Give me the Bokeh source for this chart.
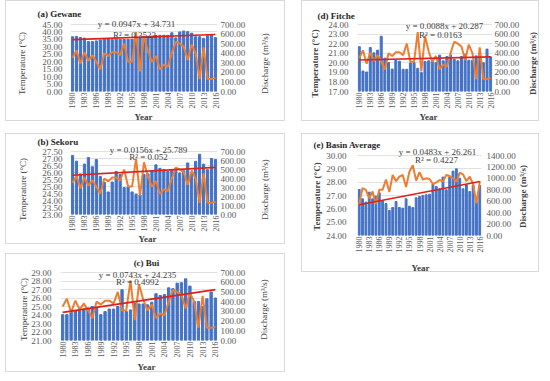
import math
from bokeh.plotting import figure
from bokeh.models import (Range1d, LinearAxis, FixedTicker, NumeralTickFormatter, Label, Spacer)
from bokeh.layouts import row, column
from bokeh.embed import file_html
from bokeh.resources import INLINE

FONT = "Liberation Serif"

years = [1980, 1981, 1982, 1983, 1984, 1985, 1986, 1987, 1988, 1989,
         1990, 1991, 1992, 1993, 1994, 1995, 1996, 1997, 1998, 1999,
         2000, 2001, 2002, 2003, 2004, 2005, 2006, 2007, 2008, 2009,
         2010, 2011, 2012, 2013, 2014, 2015, 2016]
year_ticks = [1980, 1983, 1986, 1989, 1992, 1995, 1998, 2001, 2004, 2007, 2010, 2013, 2016]

discharge = [350, 430, 290, 410, 320, 380, 310, 230, 400, 370, 410, 410, 380, 500, 310, 310,
             620, 210, 580, 420, 310, 370, 230, 280, 260, 400, 520, 500, 470, 330, 490, 400,
             130, 460, 130, 130, 140]
discharge_basin = [540, 830, 800, 650, 770, 550, 800, 800, 980, 760, 1060, 950, 1030, 1060, 850,
                   1120, 1230, 960, 1110, 980, 1000, 990, 900, 930, 970, 950, 1060, 1040, 1000,
                   940, 1100, 1070, 950, 1030, 900, 560, 950]

temp_gewane = [36.8, 37.0, 36.3, 35.9, 33.5, 33.5, 34.0, 34.6, 35.0, 35.2, 34.8, 35.1, 34.9,
               34.9, 35.0, 35.0, 35.8, 36.5, 36.8, 37.0, 37.2, 37.6, 37.7, 37.8, 37.7, 39.4,
               36.0, 40.0, 40.6, 40.2, 39.2, 36.8, 36.8, 35.7, 37.5, 38.0, 36.2]
temp_sekoru = [27.22, 26.81, 25.9, 26.6, 27.07, 26.41, 26.93, 25.72, 25.3, 24.61, 25.32, 26.08,
               25.86, 24.92, 24.97, 24.61, 24.45, 24.4, 25.87, 25.9, 26.1, 26.55, 26.3, 26.2,
               26.08, 26.15, 26.3, 25.96, 26.13, 26.68, 25.9, 26.8, 27.3, 26.6, 26.2, 27.0, 26.93]
temp_bui = [24.04, 24.04, 24.4, 24.5, 24.5, 24.7, 24.8, 25.0, 24.9, 24.04, 24.4, 24.7, 24.7,
            25.0, 26.97, 24.4, 24.6, 25.4, 25.3, 25.3, 25.2, 25.5, 26.5, 26.3, 26.4, 27.2,
            27.1, 27.75, 27.8, 28.26, 27.4, 25.6, 25.6, 25.0, 25.9, 26.7, 26.0]
temp_fitche = [21.68, 19.14, 19.04, 21.6, 21.04, 21.32, 22.77, 20.48, 20.02, 19.35, 20.27, 20.16,
               19.32, 19.32, 19.99, 20.02, 19.42, 18.97, 20.13, 20.2, 20.13, 20.02, 20.8, 20.2,
               20.65, 20.83, 20.37, 20.2, 20.65, 20.9, 20.27, 20.27, 20.72, 20.72, 20.0, 21.43, 20.62]
temp_basin = [27.45, 26.75, 26.5, 27.25, 26.75, 26.95, 27.2, 26.6, 26.4, 25.88, 26.1, 26.55, 26.1,
              26.05, 26.75, 26.2, 26.1, 26.83, 26.93, 27.0, 27.05, 27.1, 27.85, 27.68, 27.5, 28.38,
              27.43, 28.38, 28.83, 29.0, 28.3, 27.5, 27.8, 27.3, 27.75, 26.5, 27.75]

titles = ["(a) Gewane", "(b) Sekoru", "(c) Bui", "(d) Fitche", "(e) Basin Average"]
slopes = [0.0947, 0.0156, 0.0743, 0.0088, 0.0483]
intercepts = [34.731, 25.789, 24.235, 20.287, 26.261]
r2_texts = ["R² = 0.3523", "R² = 0.052", "R² = 0.4992", "R² = 0.0163", "R² = 0.4227"]
eq_texts = ["y = 0.0947x + 34.731", "y = 0.0156x + 25.789", "y = 0.0743x + 24.235",
            "y = 0.0088x + 20.287", "y = 0.0483x + 26.261"]
temp_axis = [(0, 45, 5), (23, 27.5, 0.5), (21, 29, 1), (17, 24, 1), (24, 30, 1)]
q_axis = [(700, 100), (700, 100), (700, 100), (700, 100), (1400, 200)]
y_label = "Temperature (°C)"
q_label = "Discharge (m³/s)"
x_label = "Year"

FT = 11  # frame top in canvas px


def ticks(lo, hi, step):
    n = int(round((hi - lo) / step))
    return [lo + i * step for i in range(n + 1)]


def txt(x, y, text, size="9px", style="normal", color="#404040", align="center", angle=0.0):
    return Label(x=x, y=y, x_units="canvas", y_units="canvas", text=text, angle=angle,
                 text_font=FONT, text_font_size=size, text_font_style=style,
                 text_color=color, text_align=align, text_baseline="middle")


def make_panel(k, temp, q, g):
    ylo, yhi, ystep = temp_axis[k]
    qhi, qstep = q_axis[k]
    w, h = g["w"], g["h"]
    ml, mr, mb = g["ml"], g["mr"], g["mb"]
    ttop, tbot = g["ttop"], h - mb
    ext = (ttop - FT) / (tbot - ttop)
    yend = yhi + ext * (yhi - ylo)
    qend = qhi * (1 + ext)
    p = figure(width=w, height=h, output_backend="svg", toolbar_location=None,
               x_range=Range1d(1979.5, 2016.5), y_range=Range1d(ylo, yend),
               min_border_left=ml, min_border_right=mr, min_border_top=FT,
               min_border_bottom=mb)
    p.extra_y_ranges = {"q": Range1d(0, qend)}
    p.styles = {"border": "1px solid #D9D9D9"}
    p.outline_line_color = None
    p.background_fill_color = "white"
    p.border_fill_color = "white"

    p.vbar(x=years, top=temp, bottom=ylo, width=0.55, color="#4472C4")
    p.line(x=years, y=q, y_range_name="q", color="#ED7D31", line_width=2)
    n = len(years)
    p.line(x=[years[0], years[-1]], y=[slopes[k] * 1 + intercepts[k], slopes[k] * n + intercepts[k]],
           color="#E0201B", line_width=1.6)

    p.xgrid.grid_line_color = None
    p.ygrid.grid_line_color = "#D9D9D9"
    p.ygrid.grid_line_width = 0.8

    ya = p.yaxis[0]
    ya.ticker = FixedTicker(ticks=ticks(ylo, yhi, ystep))
    ya.formatter = NumeralTickFormatter(format="0.00")
    ya.major_label_standoff = g["lso"]

    ra = LinearAxis(y_range_name="q", ticker=FixedTicker(ticks=ticks(0, qhi, qstep)),
                    formatter=NumeralTickFormatter(format="0.00"))
    ra.major_label_standoff = g["rso"]
    p.add_layout(ra, "right")

    xa = p.xaxis[0]
    xa.ticker = FixedTicker(ticks=year_ticks)
    xa.major_label_orientation = math.pi / 2
    xa.major_label_standoff = 1

    for ax in [ya, ra, xa]:
        ax.axis_line_color = None
        ax.major_tick_line_color = None
        ax.minor_tick_line_color = None
        ax.major_tick_out = 0
        ax.major_tick_in = 0
        ax.minor_tick_out = 0
        ax.minor_tick_in = 0
        ax.major_label_text_font = FONT
        ax.major_label_text_font_size = "9px"
        ax.major_label_text_color = "#595959"
    xa.major_label_text_font_size = "8px"

    lab_style = "bold" if g["bold"] else "normal"
    p.add_layout(txt(*g["title"], titles[k], style="bold", color="#262626", align=g["talign"]), "above")
    p.add_layout(txt(*g["ylab"], y_label, style=lab_style, angle=math.pi / 2), "left")
    p.add_layout(txt(*g["qlab"], q_label, style=lab_style, angle=math.pi / 2), "right")
    p.add_layout(txt(*g["xlab"], x_label, style="bold"), "below")
    p.add_layout(txt(*g["eq"], eq_texts[k]))
    p.add_layout(txt(*g["r2"], r2_texts[k]))
    return p


geo = [
    dict(w=280, h=121, ml=64, mr=69, mb=31, ttop=23, title=(30, 11), talign="left",
         eq=(129, 21), r2=(127, 32), ylab=(14, 61), qlab=(257, 61), xlab=(136, 114),
         bold=False, lso=8, rso=3),
    dict(w=280, h=111, ml=64, mr=69, mb=31, ttop=17, title=(30, 6), talign="left",
         eq=(141, 14), r2=(141, 21), ylab=(15, 54), qlab=(257, 54), xlab=(140, 103.5),
         bold=False, lso=8, rso=3),
    dict(w=280, h=119, ml=54, mr=69, mb=33, ttop=18, title=(139, 7), talign="center",
         eq=(130, 19), r2=(130, 26), ylab=(16, 54), qlab=(256, 54), xlab=(139, 111.5),
         bold=False, lso=9, rso=3),
    dict(w=238, h=121, ml=55, mr=48, mb=31, ttop=23, title=(14, 13), talign="left",
         eq=(141, 23), r2=(137, 32), ylab=(11, 61), qlab=(229, 61), xlab=(125, 114),
         bold=True, lso=9, rso=2),
    dict(w=238, h=139, ml=55, mr=59, mb=38, ttop=21, title=(10, 9), talign="left",
         eq=(134, 16), r2=(133, 24), ylab=(13, 61), qlab=(219, 61), xlab=(117, 132),
         bold=True, lso=11, rso=5),
]

pa = make_panel(0, temp_gewane, discharge, geo[0])
pb = make_panel(1, temp_sekoru, discharge, geo[1])
pc = make_panel(2, temp_bui, discharge, geo[2])
pd = make_panel(3, temp_fitche, discharge, geo[3])
pe = make_panel(4, temp_basin, discharge_basin, geo[4])

left = column(row(pa), Spacer(height=12), row(pb), Spacer(height=9), row(pc))
right = column(row(pd), Spacer(height=12), row(pe))
root = row(Spacer(width=5), left, Spacer(width=16), right)

open("out.html", "w").write(file_html(root, INLINE))
